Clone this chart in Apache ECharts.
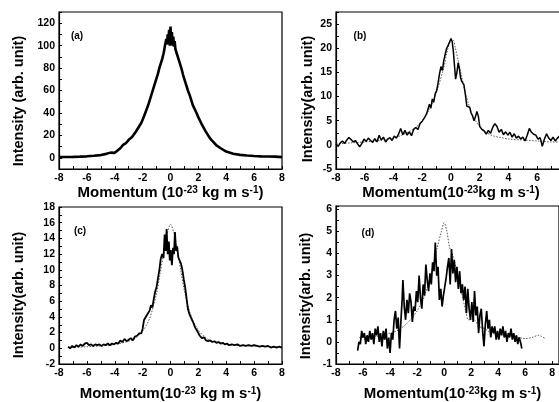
<!DOCTYPE html>
<html><head><meta charset="utf-8">
<script src="https://cdn.jsdelivr.net/npm/echarts@6/dist/echarts.min.js"></script>
<style>html,body{margin:0;padding:0;background:#fff}#c{width:559px;height:402px}</style>
</head><body><div id="c"></div>
<script>
// ---- Data ----
const xTickLabels = [-8,-6,-4,-2,0,2,4,6,8];
const aYTicks = [0,20,40,60,80,100,120];
const bYTicks = [-5,0,5,10,15,20,25];
const cYTicks = [-2,0,2,4,6,8,10,12,14,16,18];
const dYTicks = [-1,0,1,2,3,4,5,6];

// (a) measured curve
const aX = [-8,-7.5,-7,-6.5,-6,-5.5,-5,-4.6,-4.3,-4,-3.8,-3.6,-3.4,-3.2,-3,-2.8,-2.67,-2.5,-2.3,-2.1,-2,-1.9,-1.75,-1.6,-1.5,-1.4,-1.25,-1.1,-1,-0.9,-0.8,-0.7,-0.6,-0.5,-0.45,-0.4,-0.35,-0.3,-0.25,-0.2,-0.15,-0.1,-0.05,0,0.05,0.1,0.15,0.2,0.25,0.3,0.35,0.4,0.45,0.5,0.6,0.7,0.8,0.9,1,1.1,1.25,1.4,1.5,1.6,1.75,1.9,2,2.2,2.5,2.8,3,3.3,3.6,4,4.5,5,5.5,6,6.5,7,7.5,8];
const aY = [0.6,0.7,0.8,1.0,1.3,1.8,2.4,3.5,4.6,4.4,6.5,8.5,11.5,13,16,18,20,23,27,31,34,37,42,47,51,55,61,67,71,75,80,84,88,93,96,100,99,106,101,110,103,114,100,117,103,112,100,108,99,104,97,98,93,92,87,83,79,74,70,66,60,55,51,47,43,39,36,31,24,18,15,11,8.5,5.5,3.6,2.6,2.0,1.6,1.3,1.1,1.0,0.6];

// (b) measured curve
const bX = [-8,-7.85,-7.7,-7.55,-7.4,-7.25,-7.1,-6.95,-6.8,-6.65,-6.5,-6.35,-6.2,-6.05,-5.9,-5.75,-5.6,-5.45,-5.3,-5.15,-5.0,-4.85,-4.7,-4.55,-4.4,-4.25,-4.1,-3.95,-3.8,-3.65,-3.5,-3.35,-3.2,-3.05,-2.9,-2.75,-2.6,-2.45,-2.3,-2.15,-2.0,-1.85,-1.7,-1.6,-1.5,-1.4,-1.3,-1.2,-1.1,-1.0,-0.9,-0.8,-0.7,-0.6,-0.5,-0.4,-0.3,-0.2,-0.1,0,0.08,0.16,0.24,0.32,0.4,0.5,0.58,0.66,0.74,0.82,0.9,1.0,1.1,1.2,1.3,1.4,1.5,1.6,1.7,1.8,1.9,2.0,2.15,2.3,2.45,2.6,2.75,2.9,3.05,3.2,3.35,3.5,3.65,3.8,3.95,4.1,4.25,4.4,4.55,4.7,4.85,5.0,5.15,5.3,5.45,5.6,5.75,5.9,6.05,6.2,6.35,6.5,6.65,6.8,6.95,7.1,7.25,7.4,7.55,7.7,7.85,8.0];
const bY = [0.2,-0.3,0.4,0.8,0.3,1.0,1.5,1.1,0.6,0.9,0.2,-0.4,0.3,1.2,0.7,1.4,0.9,0.5,1.3,0.6,2.0,1.0,1.6,0.6,1.2,1.5,0.9,1.8,1.4,2.2,3.4,2.1,3.0,2.0,2.7,1.9,3.2,3.6,3.2,4.4,4.9,5.6,6.4,6.0,8.4,7.6,9.5,8.8,10.6,11.2,12.8,14.7,16.2,15.4,17.5,18.8,20.0,20.6,21.3,22.0,21.4,19.5,16.5,13.6,14.8,17.0,15.8,14.0,13.2,13.4,12.4,10.4,8.0,7.6,7.8,6.6,6.0,5.0,5.8,6.9,6.0,3.8,3.2,2.9,2.2,3.0,2.4,3.6,4.4,3.8,2.6,3.2,2.1,2.7,2.0,2.6,1.6,2.3,1.4,1.8,1.2,1.6,0.8,2.0,3.4,2.6,2.2,2.0,1.2,1.5,-0.3,1.2,2.3,1.4,0.9,1.6,0.8,1.4,1.8,1.0,1.5,1.1];
// (b) fit curve (dotted)
const bFitX = [-8,-7,-6,-5,-4,-3.5,-3,-2.5,-2,-1.5,-1,-0.5,-0.25,0,0.15,0.3,0.5,0.75,1,1.25,1.5,2,2.5,3,3.5,4,5,6,7,8];
const bFitY = [0.2,0.4,0.6,0.9,1.4,1.9,2.6,3.5,5.0,7.4,11.0,16.0,19.5,21.6,21.7,20.0,17.5,14.0,10.8,8.2,6.0,3.8,2.5,1.8,1.5,1.2,1.0,0.8,0.6,0.6];

// (c) measured curve
const cX = [-7.35,-7.2,-7.05,-6.9,-6.75,-6.6,-6.45,-6.3,-6.15,-6.0,-5.85,-5.7,-5.55,-5.4,-5.25,-5.1,-4.95,-4.8,-4.65,-4.5,-4.35,-4.2,-4.05,-3.9,-3.75,-3.6,-3.45,-3.3,-3.15,-3.0,-2.85,-2.7,-2.55,-2.4,-2.25,-2.1,-2.0,-1.9,-1.8,-1.7,-1.6,-1.5,-1.4,-1.3,-1.2,-1.1,-1.0,-0.9,-0.8,-0.7,-0.6,-0.5,-0.42,-0.35,-0.28,-0.2,-0.12,-0.05,0.02,0.1,0.18,0.25,0.32,0.4,0.48,0.56,0.65,0.75,0.85,0.95,1.05,1.15,1.25,1.35,1.45,1.55,1.65,1.75,1.85,1.95,2.1,2.25,2.4,2.55,2.7,2.85,3.0,3.15,3.3,3.45,3.6,3.75,3.9,4.05,4.2,4.4,4.6,4.8,5.0,5.2,5.4,5.6,5.8,6.0,6.2,6.4,6.6,6.8,7.0,7.2,7.4,7.6,7.8,8.0];
const cY = [0.2,0.0,0.3,0.1,0.4,0.2,0.5,0.3,0.6,0.7,0.4,0.5,0.3,0.5,0.4,0.5,0.3,0.5,0.4,0.6,0.4,0.6,0.5,0.7,0.6,1.0,0.8,1.2,0.9,1.1,1.3,1.0,1.5,1.6,1.9,1.9,2.5,3.6,3.4,4.2,4.0,4.8,5.5,5.2,6.3,7.2,7.8,8.9,10.0,11.4,12.0,11.5,14.5,12.4,15.2,12.0,13.6,11.2,12.5,10.6,12.8,12.0,14.8,12.4,13.0,11.6,11.8,10.8,10.0,8.8,7.8,6.4,5.0,4.4,4.2,3.6,3.2,2.7,2.5,2.1,1.6,1.3,1.4,1.0,0.9,1.0,0.8,0.9,0.7,0.8,0.6,0.7,0.5,0.6,0.4,0.5,0.4,0.5,0.3,0.4,0.3,0.4,0.3,0.4,0.3,0.2,0.3,0.2,0.3,0.1,0.2,0.1,0.2,0.1];
// (c) fit curve (dotted)
const cFitX = [-7.3,-6,-5,-4,-3,-2.5,-2,-1.5,-1,-0.75,-0.5,-0.25,0,0.25,0.5,0.75,1,1.5,2,2.5,3,4,5,6,7,8];
const cFitY = [0.1,0.2,0.3,0.5,0.9,1.3,2.2,3.8,7.0,9.5,12.0,14.5,15.8,14.6,12.3,9.8,7.3,4.0,2.3,1.4,0.9,0.5,0.35,0.3,0.2,0.2];

// (d) measured curve
const dX = [-6.4,-6.3,-6.2,-6.1,-6.0,-5.9,-5.8,-5.7,-5.6,-5.5,-5.4,-5.3,-5.2,-5.1,-5.0,-4.9,-4.8,-4.7,-4.6,-4.5,-4.4,-4.3,-4.2,-4.1,-4.0,-3.9,-3.8,-3.7,-3.6,-3.5,-3.4,-3.3,-3.2,-3.1,-3.05,-2.95,-2.85,-2.75,-2.65,-2.55,-2.45,-2.35,-2.25,-2.15,-2.05,-1.95,-1.85,-1.75,-1.65,-1.55,-1.45,-1.35,-1.25,-1.15,-1.05,-0.95,-0.85,-0.75,-0.65,-0.55,-0.45,-0.35,-0.25,-0.15,-0.05,0.05,0.15,0.25,0.35,0.45,0.55,0.65,0.75,0.85,0.95,1.05,1.15,1.25,1.35,1.45,1.55,1.65,1.75,1.85,1.95,2.05,2.15,2.25,2.35,2.45,2.55,2.65,2.75,2.85,2.95,3.05,3.15,3.25,3.35,3.45,3.55,3.65,3.75,3.85,3.95,4.05,4.15,4.25,4.35,4.45,4.55,4.65,4.75,4.85,4.95,5.05,5.15,5.25,5.35,5.45,5.55,5.65,5.75];
const dY = [-0.4,0.0,-0.1,0.5,0.2,0.4,-0.1,0.3,0.0,0.5,0.1,0.4,-0.1,0.6,0.3,0.7,0.0,0.4,-0.2,0.5,0.1,0.6,-0.3,0.2,-0.5,0.4,0.1,1.0,1.4,0.6,1.1,-0.3,0.9,2.0,2.8,1.6,1.0,1.9,1.3,2.2,1.8,0.9,1.6,1.4,2.3,1.8,3.0,2.0,1.5,2.6,2.1,3.5,2.8,2.3,3.1,2.6,3.6,3.2,4.5,3.0,3.4,1.9,2.4,1.6,2.1,2.5,2.9,3.4,3.8,2.6,4.2,3.1,3.7,2.7,3.4,2.4,3.2,2.2,2.6,1.9,2.5,1.3,2.4,1.5,1.0,1.8,0.9,2.3,1.2,1.6,0.4,1.2,1.5,0.5,-0.2,0.8,1.4,0.6,1.0,0.2,0.7,0.4,0.7,0.1,0.5,0.1,0.6,0.3,0.7,0.2,0.5,0.0,0.4,0.2,0.6,0.1,0.4,0.0,0.3,-0.1,0.2,0.0,-0.3];
// (d) fit curve (dotted)
const dFitX = [-6.3,-5.5,-5,-4.5,-4,-3.5,-3,-2.5,-2,-1.5,-1,-0.5,-0.2,0,0.2,0.4,0.7,1,1.3,1.6,1.8,2.2,2.6,3,3.5,4,4.5,5,5.5,6,6.5,7,7.2,7.5];
const dFitY = [0.2,0.2,0.25,0.3,0.4,0.5,0.7,1.0,1.4,2.0,3.0,4.3,5.0,5.4,5.0,4.3,3.8,3.0,2.2,1.4,1.0,1.0,0.7,0.6,0.4,0.35,0.3,0.25,0.2,0.15,0.2,0.3,0.25,0.15];

// ---- Chart ----
const pairs = (xs, ys) => xs.map((x, i) => [x, ys[i]]);
const FONT = 'Liberation Sans';
const grids = [
  {left: 59, top: 12, width: 223, height: 157},
  {left: 336, top: 12, width: 230, height: 157},
  {left: 59, top: 207, width: 223, height: 157},
  {left: 336, top: 206, width: 223, height: 158}
];
grids.forEach(g => { g.show = true; g.borderColor = '#000'; g.borderWidth = 1.2; g.backgroundColor = 'transparent'; g.containLabel = false; g.outerBoundsMode = 'none'; });

const supRich = { s: { fontSize: 10, fontWeight: 'bold', fontFamily: FONT, color: '#000', verticalAlign: 'top', padding: [0, 0, 5, 0] } };
function xAxis(idx, max, name, gap, shift) {
  return {
    type: 'value', gridIndex: idx, min: -8, max: max, interval: 1,
    axisLine: {show: true, onZero: false, lineStyle: {color: '#000', width: 1.2}},
    axisTick: {show: true, inside: true, length: 3, lineStyle: {color: '#000'}},
    axisLabel: {customValues: xTickLabels, color: '#000', fontSize: 10.5, fontWeight: 'bold', fontFamily: FONT, margin: 4},
    splitLine: {show: false},
    name: name, nameLocation: 'middle', nameGap: gap,
    nameTextStyle: {color: '#000', fontSize: 15, fontWeight: 'bold', fontFamily: FONT, rich: supRich, padding: [0, 0, 0, shift || 0]}
  };
}
function yAxis(idx, min, max, interval, ticks) {
  return {
    type: 'value', gridIndex: idx, min: min, max: max, interval: interval,
    axisLine: {show: true, onZero: false, lineStyle: {color: '#000', width: 1.2}},
    axisTick: {show: true, inside: true, length: 3, lineStyle: {color: '#000'}},
    axisLabel: {customValues: ticks, color: '#000', fontSize: 10.5, fontWeight: 'bold', fontFamily: FONT, margin: 4},
    splitLine: {show: false}
  };
}
function solid(idx, xs, ys, w) {
  return {type: 'line', xAxisIndex: idx, yAxisIndex: idx, data: pairs(xs, ys), showSymbol: false, symbol: 'none',
    lineStyle: {color: '#000', width: w}, z: 3};
}
function dotted(idx, xs, ys) {
  return {type: 'line', xAxisIndex: idx, yAxisIndex: idx, data: pairs(xs, ys), showSymbol: false, symbol: 'none', smooth: 0.3,
    lineStyle: {color: '#555', width: 1, type: [1.5, 1.5]}, z: 2};
}
function txt(x, y, s, size, rot) {
  return {type: 'text', x: x, y: y, rotation: rot || 0,
    style: {text: s, fill: '#000', font: 'bold ' + size + 'px "' + FONT + '"', textAlign: 'center', textVerticalAlign: 'middle'}};
}

const chart = echarts.init(document.getElementById('c'), null, {renderer: 'canvas'});
chart.setOption({
  animation: false,
  backgroundColor: '#fff',
  grid: grids,
  xAxis: [
    xAxis(0, 8, 'Momentum (10{s|-23} kg m s{s|-1})', 8),
    xAxis(1, 8, 'Momentum(10{s|-23}kg m s{s|-1})', 8),
    xAxis(2, 8, 'Momentum(10{s|-23} kg m s{s|-1})', 22),
    xAxis(3, 8.5, 'Momentum(10{s|-23}kg m s{s|-1})', 22, 10)
  ],
  yAxis: [
    yAxis(0, -10, 130, 10, aYTicks),
    yAxis(1, -5, 27.5, 2.5, bYTicks),
    yAxis(2, -2, 18, 1, cYTicks),
    yAxis(3, -1, 6.15, 0.5, dYTicks)
  ],
  series: [
    solid(0, aX, aY, 2.6),
    dotted(1, bFitX, bFitY),
    solid(1, bX, bY, 1.5),
    dotted(2, cFitX, cFitY),
    solid(2, cX, cY, 1.8),
    dotted(3, dFitX, dFitY),
    solid(3, dX, dY, 1.7)
  ],
  graphic: [
    txt(19, 101, 'Intensity (arb. unit)', 14.5, Math.PI / 2),
    txt(308, 99, 'Intensity(arb. unit)', 14.5, Math.PI / 2),
    txt(19, 295, 'Intensity(arb. unit)', 14.5, Math.PI / 2),
    txt(306, 296, 'Intensity(arb. unit)', 14.5, Math.PI / 2),
    txt(77, 36, '(a)', 10),
    txt(360, 36, '(b)', 10),
    txt(80, 231, '(c)', 10),
    txt(368, 233, '(d)', 10)
  ]
});
</script>
</body></html>
